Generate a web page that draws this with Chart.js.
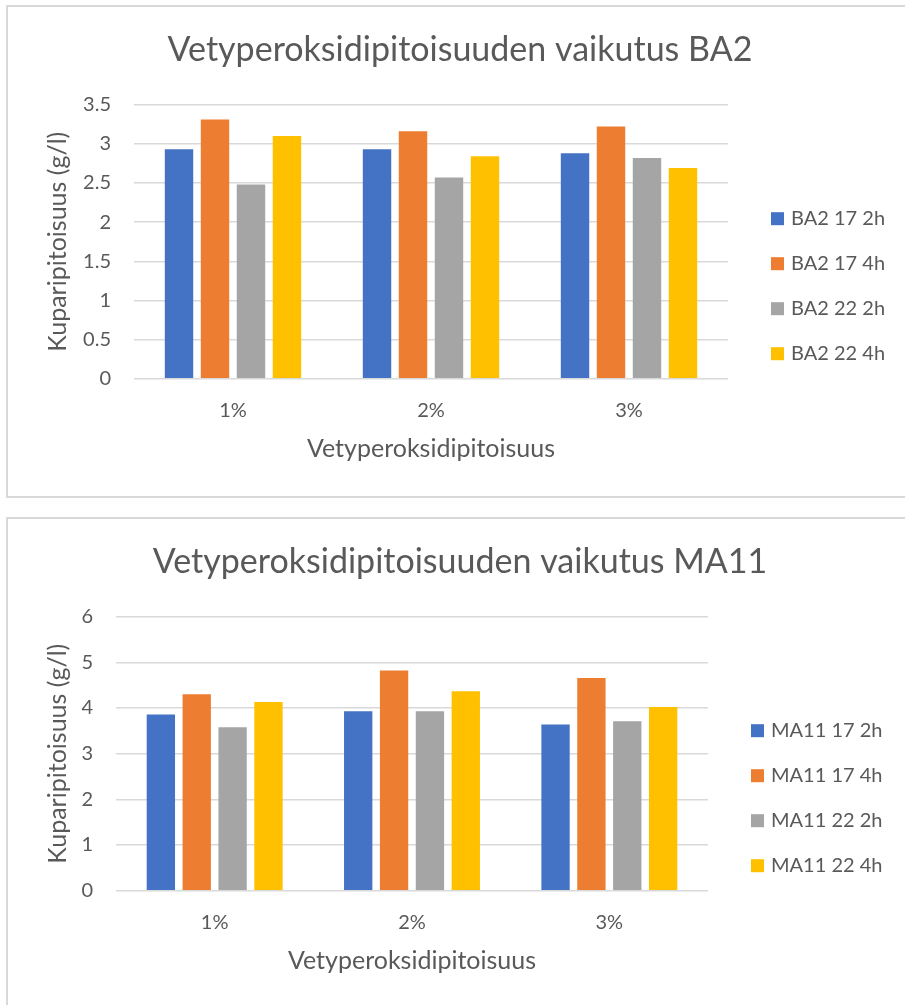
<!DOCTYPE html>
<html>
<head>
<meta charset="utf-8">
<title>Vetyperoksidipitoisuuden vaikutus</title>
<script src="https://cdn.jsdelivr.net/npm/chart.js@4.4.1/dist/chart.umd.min.js"></script>
<style>
  html, body { margin: 0; padding: 0; background: #fff; }
  body { position: relative; width: 905px; height: 1005px; overflow: hidden; }
  .frame { position: absolute; border: 2px solid #d9d9d9; box-sizing: border-box; }
  #frame1 { left: 6px; top: 5px; width: 1000px; height: 493px; }
  #frame2 { left: 6px; top: 517px; width: 1000px; height: 600px; }
  canvas { position: absolute; left: 0; }
  #chartBA2 { top: 0; }
  #chartMA11 { top: 512px; }
</style>
</head>
<body>
<div class="frame" id="frame1"></div>
<div class="frame" id="frame2"></div>
<canvas id="chartBA2" width="905" height="505"></canvas>
<canvas id="chartMA11" width="905" height="493"></canvas>
<script>
// Hydrogen peroxide concentration categories
const categories = ['1%', '2%', '3%'];

// BA2: copper concentration (g/l)
const ba2Labels = ['BA2 17 2h', 'BA2 17 4h', 'BA2 22 2h', 'BA2 22 4h'];
const ba2_17_2h = [2.93, 2.93, 2.88];
const ba2_17_4h = [3.31, 3.16, 3.22];
const ba2_22_2h = [2.48, 2.57, 2.82];
const ba2_22_4h = [3.10, 2.84, 2.69];
const ba2Axis = { min: 0, max: 3.5, step: 0.5 };

// MA11: copper concentration (g/l)
const ma11Labels = ['MA11 17 2h', 'MA11 17 4h', 'MA11 22 2h', 'MA11 22 4h'];
const ma11_17_2h = [3.86, 3.93, 3.64];
const ma11_17_4h = [4.30, 4.82, 4.66];
const ma11_22_2h = [3.58, 3.93, 3.71];
const ma11_22_4h = [4.13, 4.37, 4.02];
const ma11Axis = { min: 0, max: 6, step: 1 };

const seriesColors = ['#4472C4', '#ED7D31', '#A5A5A5', '#FFC000'];
const textColor = '#595959';
const gridColor = '#d9d9d9';
const fontFamily = 'Lato, "Open Sans", sans-serif';

// Legend drawn in its own layout box at the right of the plot
function sideLegend(boxWidth) {
  return {
    id: 'sideLegend',
    beforeInit(chart) {
      const box = {
        position: 'right',
        weight: 0,
        fullSize: false,
        options: {},
        left: 0, top: 0, right: 0, bottom: 0, width: 0, height: 0,
        update(maxWidth, maxHeight) { this.width = boxWidth; this.height = maxHeight; },
        isHorizontal() { return false; },
        getPadding() { return { left: 0, right: 0, top: 0, bottom: 0 }; },
        draw() {
          const ctx = chart.ctx;
          const area = chart.chartArea;
          ctx.save();
          ctx.font = '20px ' + fontFamily;
          ctx.textAlign = 'left';
          ctx.textBaseline = 'middle';
          chart.data.datasets.forEach((ds, i) => {
            const cy = area.top + 114 + i * 45;
            const x = area.right + 43;
            ctx.fillStyle = ds.backgroundColor;
            ctx.fillRect(x, cy - 6.5, 13, 13);
            ctx.fillStyle = textColor;
            ctx.fillText(ds.label, x + 20, cy);
          });
          ctx.restore();
        }
      };
      Chart.layouts.addBox(chart, box);
    }
  };
}

// "3", "2.5", "0.5" – no trailing zeros on the value axis
const plainNumber = (value) => String(Number(value.toFixed(2)));

function makeChart(canvasId, titleText, labels, series, axis, yWidth, legendWidth, padBottom) {
  const datasets = series.map((values, i) => ({
    label: labels[i],
    data: values,
    backgroundColor: seriesColors[i],
    borderWidth: 0,
    categoryPercentage: 0.727,
    barPercentage: 0.79
  }));
  return new Chart(document.getElementById(canvasId), {
    type: 'bar',
    data: { labels: categories, datasets },
    plugins: [sideLegend(legendWidth)],
    options: {
      responsive: false,
      animation: false,
      events: [],
      layout: { padding: { left: 15, right: 0, top: 0, bottom: padBottom } },
      plugins: {
        legend: { display: false },
        tooltip: { enabled: false },
        title: {
          display: true,
          text: titleText,
          color: textColor,
          font: { family: fontFamily, size: 34, weight: 'normal', lineHeight: 1.2 },
          padding: { top: 30.1, bottom: 33.8 }
        }
      },
      scales: {
        x: {
          grid: { display: false, drawTicks: false },
          border: { display: false },
          ticks: { color: textColor, padding: 20.3, font: { family: fontFamily, size: 20, lineHeight: 1.2 } },
          title: {
            display: true,
            text: 'Vetyperoksidipitoisuus',
            color: textColor,
            font: { family: fontFamily, size: 25, lineHeight: 1.2 },
            padding: { top: -9.6, bottom: 0 }
          }
        },
        y: {
          min: axis.min,
          max: axis.max,
          afterFit(scale) { scale.width = yWidth; },
          grid: { color: gridColor, lineWidth: 1.5, drawTicks: false },
          border: { display: false },
          ticks: {
            stepSize: axis.step,
            color: textColor,
            padding: 23,
            font: { family: fontFamily, size: 20, lineHeight: 1.2 },
            callback: plainNumber
          },
          title: {
            display: true,
            text: 'Kuparipitoisuus (g/l)',
            color: textColor,
            font: { family: fontFamily, size: 25, lineHeight: 1.2 },
            padding: { top: 27.5, bottom: 0 }
          }
        }
      }
    }
  });
}

makeChart('chartBA2', 'Vetyperoksidipitoisuuden vaikutus BA2', ba2Labels,
  [ba2_17_2h, ba2_17_4h, ba2_22_2h, ba2_22_4h], ba2Axis, 119, 177, 41.3);
makeChart('chartMA11', 'Vetyperoksidipitoisuuden vaikutus MA11', ma11Labels,
  [ma11_17_2h, ma11_17_4h, ma11_22_2h, ma11_22_4h], ma11Axis, 101, 197, 29.3);
</script>
</body>
</html>
